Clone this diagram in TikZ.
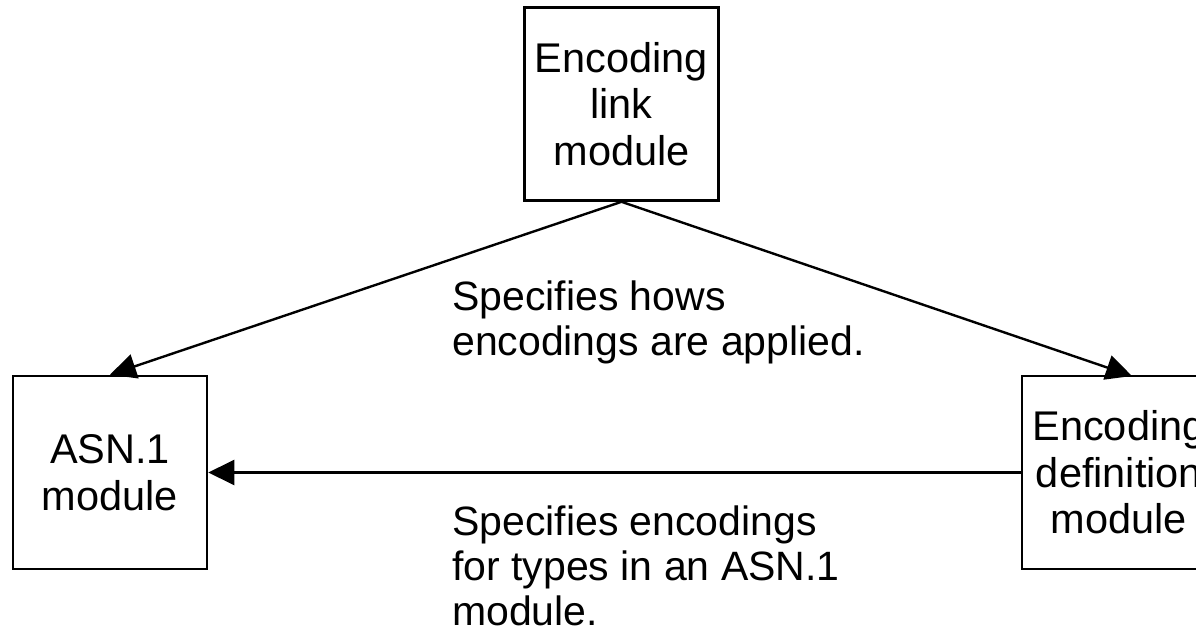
\documentclass[tikz,border=0pt]{standalone}
\usepackage{fontspec}
\setmainfont{Liberation Sans}
\usetikzlibrary{arrows.meta}
\begin{document}
\begin{tikzpicture}[x=1pt,y=-1pt,
  box/.style={draw=black,line width=2.6pt,minimum width=194pt,minimum height=193pt,inner sep=0pt,align=center,font=\fontsize{41.5}{46.5}\selectfont},
  lbl/.style={inner sep=0pt,align=left,font=\fontsize{41}{45}\selectfont},
  conn/.style={line width=2.4pt,-{Triangle[length=26pt,width=25pt]}}]
\useasboundingbox (0,0) rectangle (1196,631);
\clip (0,0) rectangle (1196,631);
\node[box] (link) at (621.5,104) {Encoding\\link\\module};
\node[box] (asn) at (110,472.5) {ASN.1\\module};
\node[box] (def) at (1119,472.5) {Encoding\\definition\\module};
\coordinate (rtip) at (1132,376);
\draw[conn] (link.south) -- (asn.north);
\draw[conn] (link.south) -- (rtip);
\draw[conn] (def.west) -- (asn.east);
\node[lbl,anchor=base west] (l1) at (452,355) {Specifies hows\\encodings are applied.};
\node[lbl,anchor=base west] (l2) at (452,625) {Specifies encodings\\for types in an ASN.1\\module.};
\end{tikzpicture}
\end{document}
